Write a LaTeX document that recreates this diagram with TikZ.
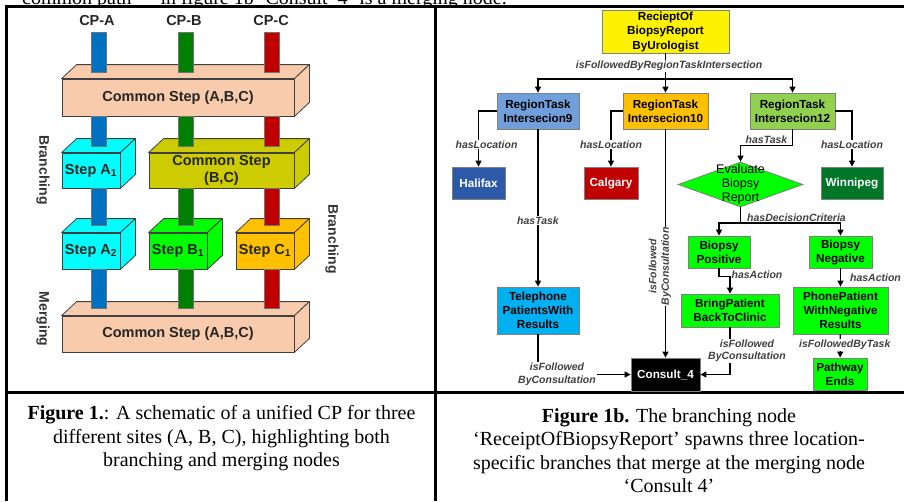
\documentclass[tikz,border=0pt]{standalone}
\usepackage{fontspec}
\setmainfont{Liberation Serif}
\setsansfont{Liberation Sans}
\usetikzlibrary{shapes.geometric, arrows.meta}

\definecolor{peach}{RGB}{248,203,173}
\definecolor{olive}{RGB}{204,204,0}
\definecolor{aqua}{RGB}{0,255,255}
\definecolor{brightgreen}{RGB}{0,255,0}
\definecolor{amber}{RGB}{255,192,0}
\definecolor{cpblue}{RGB}{0,112,192}
\definecolor{cpgreen}{RGB}{0,128,0}
\definecolor{cpred}{RGB}{192,0,0}
\definecolor{cubeline}{RGB}{64,64,64}
\definecolor{regionblue}{RGB}{112,159,219}
\definecolor{regiongreen}{RGB}{146,208,80}
\definecolor{halifaxblue}{RGB}{44,90,168}
\definecolor{winnipeggreen}{RGB}{0,118,40}
\definecolor{telblue}{RGB}{0,176,240}
\definecolor{labelgray}{RGB}{64,64,64}

\tikzstyle{cube} = [rectangle, minimum width=58pt, minimum height=35pt, inner sep=0pt, text centered, align=center, draw=cubeline, line width=0.8pt, font=\sffamily\bfseries\fontsize{14.5}{17}\selectfont, text=black!85]
\tikzstyle{face} = [draw=cubeline, line width=0.8pt, line join=round]
\tikzstyle{bar} = [draw=black!55, line width=0.5pt]
\tikzstyle{side} = [font=\sffamily\bfseries\fontsize{14}{16}\selectfont, text=black!80, rotate=-90]
\tikzstyle{cplabel} = [font=\sffamily\bfseries\fontsize{14.5}{16}\selectfont, text=black!85]
\tikzstyle{task} = [rectangle, draw=black!50, line width=0.8pt, inner sep=0pt, text centered, align=center, font=\sffamily\bfseries\fontsize{11.7}{14}\selectfont]
\tikzstyle{place} = [task, text=white]
\tikzstyle{decision} = [diamond, draw=black!50, line width=0.8pt, fill=brightgreen, inner sep=0pt, minimum width=125pt, minimum height=45pt]
\tikzstyle{edgelabel} = [font=\sffamily\bfseries\itshape\fontsize{10.5}{12.5}\selectfont, text=labelgray, align=center, inner sep=1pt]
\tikzstyle{conn} = [line width=1.2pt]
\tikzstyle{arrow} = [conn, -{Triangle[length=6pt,width=6pt]}]
\tikzstyle{caption} = [font=\fontsize{20}{23.5}\selectfont, align=center, inner sep=0pt]
\tikzstyle{tableline} = [line width=2.2pt]

\begin{document}
\begin{tikzpicture}[x=1pt, y=-1pt]
\useasboundingbox (0,0) rectangle (904,501);

% table
\draw[tableline] (5.4,6.5) -- (904,6.5);
\draw[tableline] (6.5,392.5) -- (904,392.5);
\draw[tableline] (6.5,5.4) -- (6.5,501);
\draw[tableline] (435.5,6.5) -- (435.5,501);

\begin{scope}
\clip (0,0) rectangle (904,5.4);
\node (cutline) [anchor=base west, inner sep=0pt, font=\fontsize{20}{24}\selectfont] at (22,4.5) {common path” – in figure 1b ‘Consult\_4’ is a merging node.};
\end{scope}

% left: unified CP
\node (cpa) [cplabel] at (97,21) {CP-A};
\node (cpb) [cplabel] at (184,21) {CP-B};
\node (cpc) [cplabel] at (271,21) {CP-C};

\node (topstep) [cube, minimum width=232pt, minimum height=37pt, fill=peach] at (178,97.5) {Common Step (A,B,C)};
\node (stepaone) [cube, fill=aqua] at (91,170.5) {Step A\textsubscript{1}};
\node (commonbc) [cube, minimum width=145pt, fill=olive] at (221.5,170.5) {Common Step\\(B,C)};
\node (stepatwo) [cube, minimum height=36pt, fill=aqua] at (91,251) {Step A\textsubscript{2}};
\node (stepbone) [cube, minimum height=36pt, fill=brightgreen] at (178,251) {Step B\textsubscript{1}};
\node (stepcone) [cube, minimum height=36pt, fill=amber] at (265,251) {Step C\textsubscript{1}};
\node (bottomstep) [cube, minimum width=232pt, minimum height=36pt, fill=peach] at (178,334) {Common Step (A,B,C)};

\draw[face, fill=peach] (topstep.north west) -- ++(15,-14) -- ([shift={(15,-14)}]topstep.north east) -- (topstep.north east) -- cycle;
\draw[face, fill=peach] (topstep.north east) -- ++(15,-14) -- ([shift={(15,-14)}]topstep.south east) -- (topstep.south east) -- cycle;
\draw[face, fill=aqua] (stepaone.north west) -- ++(15,-14) -- ([shift={(15,-14)}]stepaone.north east) -- (stepaone.north east) -- cycle;
\draw[face, fill=aqua] (stepaone.north east) -- ++(15,-14) -- ([shift={(15,-14)}]stepaone.south east) -- (stepaone.south east) -- cycle;
\draw[face, fill=olive] (commonbc.north west) -- ++(15,-14) -- ([shift={(15,-14)}]commonbc.north east) -- (commonbc.north east) -- cycle;
\draw[face, fill=olive] (commonbc.north east) -- ++(15,-14) -- ([shift={(15,-14)}]commonbc.south east) -- (commonbc.south east) -- cycle;
\draw[face, fill=aqua] (stepatwo.north west) -- ++(15,-14) -- ([shift={(15,-14)}]stepatwo.north east) -- (stepatwo.north east) -- cycle;
\draw[face, fill=aqua] (stepatwo.north east) -- ++(15,-14) -- ([shift={(15,-14)}]stepatwo.south east) -- (stepatwo.south east) -- cycle;
\draw[face, fill=brightgreen] (stepbone.north west) -- ++(15,-14) -- ([shift={(15,-14)}]stepbone.north east) -- (stepbone.north east) -- cycle;
\draw[face, fill=brightgreen] (stepbone.north east) -- ++(15,-14) -- ([shift={(15,-14)}]stepbone.south east) -- (stepbone.south east) -- cycle;
\draw[face, fill=amber] (stepcone.north west) -- ++(15,-14) -- ([shift={(15,-14)}]stepcone.north east) -- (stepcone.north east) -- cycle;
\draw[face, fill=amber] (stepcone.north east) -- ++(15,-14) -- ([shift={(15,-14)}]stepcone.south east) -- (stepcone.south east) -- cycle;
\draw[face, fill=peach] (bottomstep.north west) -- ++(15,-14) -- ([shift={(15,-14)}]bottomstep.north east) -- (bottomstep.north east) -- cycle;
\draw[face, fill=peach] (bottomstep.north east) -- ++(15,-14) -- ([shift={(15,-14)}]bottomstep.south east) -- (bottomstep.south east) -- cycle;

% pathway bars
\foreach \x/\c in {98.5/cpblue, 185.5/cpgreen, 272/cpred}
  \foreach \ya/\yb in {32/72, 116/146, 188/225, 269/308}
    \draw[bar, fill=\c] (\x-7.5,\ya) rectangle (\x+7.5,\yb);

\node (branchleft) [side] at (43,170) {Branching};
\node (mergeleft) [side] at (43,319) {Merging};
\node (branchright) [side] at (332,239) {Branching};

% right: biopsy report pathway
\node (receipt) [task, fill=yellow, minimum width=127pt, minimum height=43pt, font=\sffamily\bfseries\fontsize{11.7}{14.5}\selectfont] at (665.5,31.5) {RecieptOf\\BiopsyReport\\ByUrologist};
\node (region9) [task, fill=regionblue, minimum width=82pt, minimum height=36pt] at (538,111) {RegionTask\\Intersecion9};
\node (region10) [task, fill=amber, minimum width=85pt, minimum height=36pt] at (665.5,111) {RegionTask\\Intersecion10};
\node (region12) [task, fill=regiongreen, minimum width=85pt, minimum height=36pt] at (792.5,111) {RegionTask\\Intersecion12};
\node (halifax) [place, fill=halifaxblue, minimum width=53pt, minimum height=32pt] at (478.5,183) {Halifax};
\node (calgary) [place, fill=cpred, minimum width=54pt, minimum height=32pt] at (611,183) {Calgary};
\node (winnipeg) [place, fill=winnipeggreen, minimum width=62pt, minimum height=32pt] at (852,183) {Winnipeg};
\node (evaluate) [decision, label={[align=center, font=\sffamily\fontsize{12.5}{14}\selectfont]center:Evaluate\\Biopsy\\Report}] at (740.5,184.5) {};
\node (positive) [task, fill=brightgreen, minimum width=62pt, minimum height=32pt] at (719,252) {Biopsy\\Positive};
\node (negative) [task, fill=brightgreen, minimum width=63pt, minimum height=32pt] at (840.5,252) {Biopsy\\Negative};
\node (bring) [task, fill=brightgreen, minimum width=98pt, minimum height=33pt] at (730,310.5) {BringPatient\\BackToClinic};
\node (phone) [task, fill=brightgreen, minimum width=95pt, minimum height=47pt] at (840.5,310.5) {PhonePatient\\WithNegative\\Results};
\node (telephone) [task, fill=telblue, minimum width=82pt, minimum height=47pt] at (538,310.5) {Telephone\\PatientsWith\\Results};
\node (consult) [place, fill=black, minimum width=69pt, minimum height=33pt] at (665.5,374.5) {Consult\_4};
\node (pathway) [task, fill=brightgreen, minimum width=54pt, minimum height=32pt] at (840,374) {Pathway\\Ends};

\coordinate (split) at (665.5,79);
\coordinate (decide) at (740.5,223);

\draw[conn] (receipt) -- node[edgelabel, fill=white, pos=0.5, xshift=3.5pt]{isFollowedByRegionTaskIntersection} (split);
\draw[arrow] (split) -- (region10);
\draw[arrow] (split) -| (region9);
\draw[arrow] (split) -| (region12);
\draw[arrow] (region9.west) -| node[edgelabel, fill=white, pos=0.8, xshift=8pt]{hasLocation} (halifax);
\draw[arrow] (region10.west) -| node[edgelabel, fill=white, pos=0.8]{hasLocation} (calgary);
\draw[arrow] (region12.east) -| node[edgelabel, fill=white, pos=0.8]{hasLocation} (winnipeg);
\draw[arrow] (region9) -- node[edgelabel, fill=white, pos=0.58]{hasTask} (telephone);
\draw[arrow] (telephone) |- node[edgelabel, fill=white, pos=0.5, xshift=19pt]{isFollowed\\ByConsultation} (consult);
\draw[arrow] (region10) -- node[edgelabel, fill=white, pos=0.6, xshift=-5.5pt, rotate=90]{isFollowed\\ByConsultation} (consult);
\draw[arrow] (region12.south) -- ++(0,16) -| node[edgelabel, pos=0.25, anchor=south]{hasTask} (evaluate.north);
\draw[conn] (evaluate.south) -- (decide);
\draw[arrow] (decide) -| (positive);
\draw[arrow] (decide) -| node[edgelabel, pos=0.28, anchor=south]{hasDecisionCriteria} (negative);
\draw[arrow] (positive.south) -- ++(0,8) -| node[edgelabel, pos=0.5, anchor=west, yshift=2pt]{hasAction} (bring.north);
\draw[arrow] (negative) -- node[edgelabel, pos=0.5, anchor=west, xshift=8pt]{hasAction} (phone);
\draw[arrow] (bring) |- node[edgelabel, fill=white, pos=0.25, xshift=17pt]{isFollowed\\ByConsultation} (consult);
\draw[arrow] (phone) -- node[edgelabel, fill=white, pos=0.45, xshift=4.5pt]{isFollowedByTask} (pathway);

% captions
\node (captionleft) [caption] at (221.5,438.5) {\textbf{Figure 1.}: A schematic of a unified CP for three\\different sites (A, B, C), highlighting both\\branching and merging nodes};
\node (captionright) [caption] at (669,450.5) {\textbf{Figure 1b.} The branching node\\‘ReceiptOfBiopsyReport’ spawns three location-\\specific branches that merge at the merging node\\‘Consult 4’};

\end{tikzpicture}
\end{document}
